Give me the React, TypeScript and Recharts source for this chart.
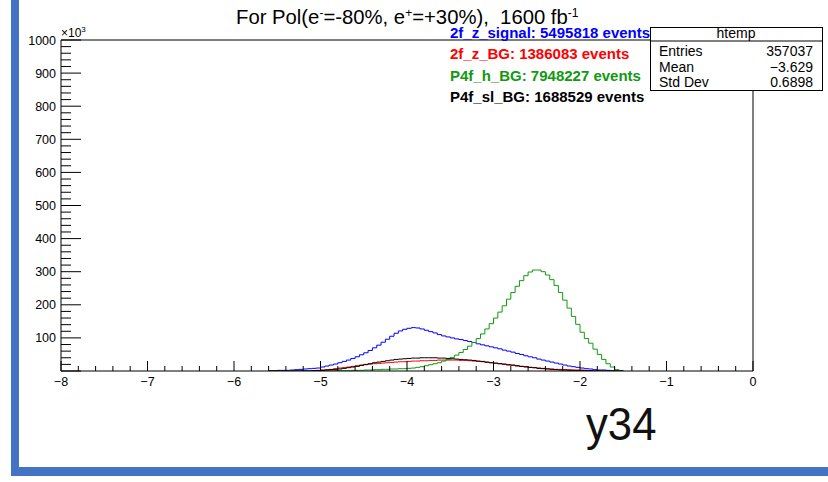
import React from "react";
import { LineChart, Line, XAxis, YAxis, ReferenceLine } from "recharts";

// histogram binning: 0.05 wide bins, first left edge at -5.60
const binStart = -5.6;
const binWidth = 0.05;

// bin contents (x10^3), left edge -5.60 ... -1.55
const signal2fZ = [
  1, 1, 2, 2, 2, 3, 4, 5, 6, 7, 8, 9,
  12, 15, 18, 21, 25, 29, 33, 38, 43, 49, 55, 62, 70, 78, 87, 96, 105, 114, 121, 126,
  129, 131, 130, 127, 123, 119, 115, 110, 106, 103, 100, 97, 95, 92, 89, 86, 82, 79, 76, 73,
  70, 67, 63, 60, 57, 53, 50, 46, 43, 40, 36, 33, 30, 27, 24, 21, 18, 15, 13, 11,
  9, 7, 6, 4, 3, 3, 2, 1, 0, 0,
];
const bg2fZ = [
  0, 0, 0, 0, 0, 0, 0, 0, 0, 0, 1, 2,
  3, 4, 5, 7, 9, 10, 12, 14, 16, 18, 19, 21, 22, 23, 24, 25, 26, 27, 28, 28,
  29, 30, 30, 31, 31, 32, 32, 33, 33, 33, 33, 33, 32, 32, 31, 30, 29, 28, 26, 25,
  23, 22, 20, 18, 17, 15, 14, 12, 11, 10, 9, 8, 7, 6, 5, 5, 4, 4, 3, 3,
  3, 2, 1, 0, 0, 0, 0, 0, 0, 0,
];
const bgP4fH = [
  0, 0, 0, 0, 0, 0, 0, 0, 0, 0, 0, 0,
  0, 0, 0.5, 1, 1, 1, 1, 2, 2, 2, 3, 3, 4, 4, 5, 5, 6, 6, 7, 7,
  8, 9, 11, 13, 16, 19, 22, 25, 30, 35, 41, 48, 56, 65, 75, 86, 98, 112, 127, 143,
  160, 178, 197, 217, 237, 256, 273, 288, 299, 305, 305, 300, 290, 276, 258, 237, 214, 190, 165, 141,
  117, 98, 84, 66, 50, 35, 22, 12, 4, 1,
];
const bgP4fSl = [
  0, 0, 0, 0, 0, 0, 0, 0, 0, 0, 1, 1,
  2, 3, 4, 5, 6, 8, 10, 12, 14, 17, 20, 22, 25, 27, 29, 31, 33, 35, 36, 37,
  38, 39, 39, 40, 40, 40, 40, 39, 39, 38, 37, 36, 35, 34, 33, 32, 30, 29, 27, 25,
  24, 22, 21, 19, 18, 16, 14, 13, 11, 10, 8, 7, 6, 5, 4, 3, 3, 2, 2, 1,
  1, 1, 0.5, 0, 0, 0, 0, 0, 0, 0,
];

const legendLabels = [
  { text: "2f_z_signal: 5495818 events", color: "#0000ff" },
  { text: "2f_z_BG: 1386083 events", color: "#ff0000" },
  { text: "P4f_h_BG: 7948227 events", color: "#119911" },
  { text: "P4f_sl_BG: 1688529 events", color: "#000000" },
];

const statsRows = [
  ["Entries", "357037"],
  ["Mean", "\u22123.629"],
  ["Std Dev", "0.6898"],
];

// axis ticks: majors + 5 subdivisions
const xTicks = Array.from({ length: 41 }, (_, i) => Math.round((-8 + i * 0.2) * 10) / 10);
const yTicks = Array.from({ length: 51 }, (_, i) => i * 20);

const data = signal2fZ.map((_, i) => ({
  x: Math.round((binStart + i * binWidth) * 100) / 100,
  blue: signal2fZ[i],
  red: bg2fZ[i],
  green: bgP4fH[i],
  black: bgP4fSl[i],
}));
data.push({
  x: Math.round((binStart + signal2fZ.length * binWidth) * 100) / 100,
  blue: 0,
  red: 0,
  green: 0,
  black: 0,
});

const FONT = "'Liberation Sans', Arial, Helvetica, sans-serif";

const fmtNum = (v: number) => (v < 0 ? "\u2212" + Math.abs(v) : String(v));

function XTick(props: any) {
  const { x, y, payload } = props;
  const v = payload.value as number;
  const major = Math.abs(v - Math.round(v)) < 1e-6;
  return (
    <g>
      <line x1={x} y1={y} x2={x} y2={y - (major ? 10 : 5)} stroke="#000" strokeWidth={1} />
      {major && (
        <text x={x} y={y + 15} textAnchor="middle" fontSize={12.5} fontFamily={FONT} fill="#000">
          {fmtNum(Math.round(v))}
        </text>
      )}
    </g>
  );
}

function YTick(props: any) {
  const { x, y, payload } = props;
  const v = payload.value as number;
  const major = v % 100 === 0;
  return (
    <g>
      <line x1={x} y1={y} x2={x + (major ? 20 : 10)} y2={y} stroke="#000" strokeWidth={1} />
      {major && v > 0 && (
        <text x={x - 5} y={y + 4.5} textAnchor="end" fontSize={12.5} fontFamily={FONT} fill="#000">
          {v}
        </text>
      )}
    </g>
  );
}

export default function App() {
  return (
    <div style={{ position: "absolute", left: 0, top: 0, width: 828, height: 482, background: "#fff" }}>
      <LineChart width={828} height={482} data={data} margin={{ top: 40, right: 75, left: 0, bottom: 0 }}>
        <XAxis
          dataKey="x"
          type="number"
          domain={[-8, 0]}
          ticks={xTicks}
          interval={0}
          height={111}
          tickSize={0}
          tickMargin={0}
          tickLine={false}
          axisLine={{ stroke: "#000" }}
          tick={<XTick />}
          allowDataOverflow
        />
        <YAxis
          type="number"
          domain={[0, 1000]}
          ticks={yTicks}
          interval={0}
          width={61}
          tickSize={0}
          tickMargin={0}
          tickLine={false}
          axisLine={{ stroke: "#000" }}
          tick={<YTick />}
          allowDataOverflow
        />
        <ReferenceLine y={1000} stroke="#000" strokeWidth={1} />
        <ReferenceLine x={0} stroke="#000" strokeWidth={1} />
        <Line type="stepAfter" dataKey="blue" stroke="#0000ff" strokeWidth={1} dot={false} isAnimationActive={false} />
        <Line type="stepAfter" dataKey="red" stroke="#ff0000" strokeWidth={1} dot={false} isAnimationActive={false} />
        <Line type="stepAfter" dataKey="green" stroke="#119911" strokeWidth={1} dot={false} isAnimationActive={false} />
        <Line type="stepAfter" dataKey="black" stroke="#000000" strokeWidth={1} dot={false} isAnimationActive={false} />
      </LineChart>

      <svg
        width={828}
        height={482}
        style={{ position: "absolute", left: 0, top: 0, pointerEvents: "none" }}
        fontFamily={FONT}
      >
        {/* slide frame */}
        <rect x={11} y={0} width={8} height={476} fill="#4472c4" />
        <rect x={11} y={467} width={817} height={9} fill="#4472c4" />

        {/* title */}
        <text x={236} y={24} fontSize={20.3} fill="#000" style={{ whiteSpace: "pre" }}>
          For Pol(e
          <tspan dy={-7} fontSize={12}>-</tspan>
          <tspan dy={7}>=-80%, e</tspan>
          <tspan dy={-7} fontSize={12}>+</tspan>
          <tspan dy={7}>=+30%),  1600 fb</tspan>
          <tspan dy={-7} fontSize={12}>-1</tspan>
        </text>

        {/* y exponent */}
        <text x={61} y={37} fontSize={12} fill="#000">
          {"\u00d710"}
          <tspan dy={-5} fontSize={8}>3</tspan>
        </text>

        {/* legend */}
        {legendLabels.map((l, i) => (
          <text key={l.text} x={450} y={38 + i * 21.3} fontSize={15} fontWeight="bold" fill={l.color}>
            {l.text}
          </text>
        ))}

        {/* stats box */}
        <rect x={650.5} y={27.5} width={172} height={63} fill="#fff" stroke="#000" strokeWidth={1} />
        <line x1={650.5} y1={41} x2={822.5} y2={41} stroke="#000" strokeWidth={1} />
        <text x={736} y={38} fontSize={14} textAnchor="middle" fill="#000">
          htemp
        </text>
        {statsRows.map((r, i) => (
          <g key={r[0]}>
            <text x={659} y={56 + i * 15.7} fontSize={14} fill="#000">
              {r[0]}
            </text>
            <text x={813} y={56 + i * 15.7} fontSize={14} textAnchor="end" fill="#000">
              {r[1]}
            </text>
          </g>
        ))}

        {/* x axis title */}
        <text x={586} y={440} fontSize={46} fill="#111" transform="translate(586 0) scale(0.95 1) translate(-586 0)">
          y34
        </text>
      </svg>
    </div>
  );
}
